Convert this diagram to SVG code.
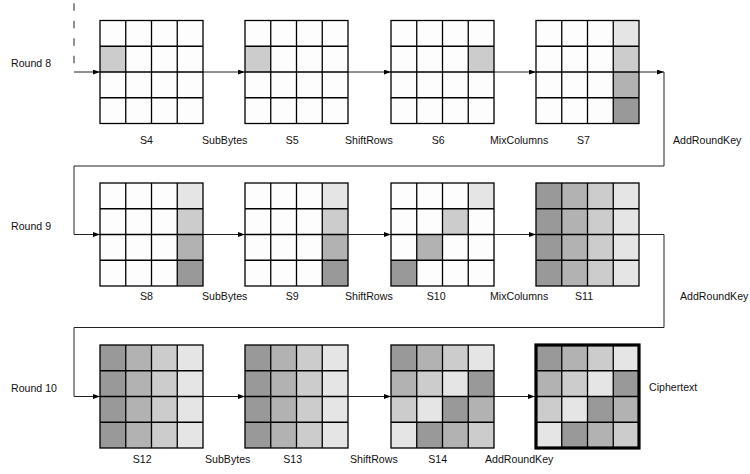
<svg xmlns="http://www.w3.org/2000/svg" xmlns:xlink="http://www.w3.org/1999/xlink" width="750" height="474" viewBox="0 0 750 474">
<style>
text{font-family:"Liberation Sans",Arial,Helvetica,sans-serif;font-size:10.6px;fill:#111}
.conn{fill:none;stroke:#222;stroke-width:1}
.gl{fill:none;stroke:#000;stroke-width:1.3}
.bg{fill:#fdfdfd}
.c1{fill:#e5e5e5}.c2{fill:#cccccc}.c3{fill:#b2b2b2}.c4{fill:#999999}
</style>
<defs>
<marker id="ah" markerUnits="userSpaceOnUse" markerWidth="8" markerHeight="6" refX="7" refY="2.4" orient="auto"><path d="M0,0 L7,2.4 L0,4.8 z" fill="#000"/></marker>
<g id="lines"><rect class="gl" width="103" height="103"/><path class="gl" d="M25.75 0V103M51.5 0V103M77.25 0V103M0 25.75H103M0 51.5H103M0 77.25H103"/></g>
<g id="col3"><rect class="c1" x="77.25" y="0" width="25.75" height="25.75"/><rect class="c2" x="77.25" y="25.75" width="25.75" height="25.75"/><rect class="c3" x="77.25" y="51.5" width="25.75" height="25.75"/><rect class="c4" x="77.25" y="77.25" width="25.75" height="25.75"/></g>
<g id="cols"><rect class="c4" x="0" y="0" width="25.75" height="103"/><rect class="c3" x="25.75" y="0" width="25.75" height="103"/><rect class="c2" x="51.5" y="0" width="25.75" height="103"/><rect class="c1" x="77.25" y="0" width="25.75" height="103"/></g>
<g id="mixed">
<rect class="c4" x="0" y="0" width="25.75" height="25.75"/><rect class="c3" x="25.75" y="0" width="25.75" height="25.75"/><rect class="c2" x="51.5" y="0" width="25.75" height="25.75"/><rect class="c1" x="77.25" y="0" width="25.75" height="25.75"/>
<rect class="c3" x="0" y="25.75" width="25.75" height="25.75"/><rect class="c2" x="25.75" y="25.75" width="25.75" height="25.75"/><rect class="c1" x="51.5" y="25.75" width="25.75" height="25.75"/><rect class="c4" x="77.25" y="25.75" width="25.75" height="25.75"/>
<rect class="c2" x="0" y="51.5" width="25.75" height="25.75"/><rect class="c1" x="25.75" y="51.5" width="25.75" height="25.75"/><rect class="c4" x="51.5" y="51.5" width="25.75" height="25.75"/><rect class="c3" x="77.25" y="51.5" width="25.75" height="25.75"/>
<rect class="c1" x="0" y="77.25" width="25.75" height="25.75"/><rect class="c4" x="25.75" y="77.25" width="25.75" height="25.75"/><rect class="c3" x="51.5" y="77.25" width="25.75" height="25.75"/><rect class="c2" x="77.25" y="77.25" width="25.75" height="25.75"/>
</g>
</defs>

<g id="connectors">
<path class="conn" d="M74 3.3V72" stroke-dasharray="7.5 10"/>
<path class="conn" d="M74 72H100" marker-end="url(#ah)"/>
<path class="conn" d="M203 72H245" marker-end="url(#ah)"/>
<path class="conn" d="M348 72H391" marker-end="url(#ah)"/>
<path class="conn" d="M494 72H536" marker-end="url(#ah)"/>
<path class="conn" d="M639 72H664" marker-end="url(#ah)"/>
<path class="conn" d="M664 72V166H74V234.5H100" marker-end="url(#ah)"/>
<path class="conn" d="M203 234.5H245" marker-end="url(#ah)"/>
<path class="conn" d="M348 234.5H391" marker-end="url(#ah)"/>
<path class="conn" d="M494 234.5H536" marker-end="url(#ah)"/>
<path class="conn" d="M639 234.5H664V327.5H74V396.5H100" marker-end="url(#ah)"/>
<path class="conn" d="M203 396.5H245" marker-end="url(#ah)"/>
<path class="conn" d="M348 396.5H391" marker-end="url(#ah)"/>
<path class="conn" d="M494 396.5H535" marker-end="url(#ah)"/>
</g>

<g id="S4" transform="translate(100,20.5)"><rect class="bg" width="103" height="103"/><rect class="c2" x="0" y="25.75" width="25.75" height="25.75"/><use xlink:href="#lines"/><text x="40" y="123.5">S4</text></g>
<g id="S5" transform="translate(245,20.5)"><rect class="bg" width="103" height="103"/><rect class="c2" x="0" y="25.75" width="25.75" height="25.75"/><use xlink:href="#lines"/><text x="40.7" y="123.5">S5</text></g>
<g id="S6" transform="translate(391,20.5)"><rect class="bg" width="103" height="103"/><rect class="c2" x="77.25" y="25.75" width="25.75" height="25.75"/><use xlink:href="#lines"/><text x="40.7" y="123.5">S6</text></g>
<g id="S7" transform="translate(536,20.5)"><rect class="bg" width="103" height="103"/><use xlink:href="#col3"/><use xlink:href="#lines"/><text x="41" y="123.5">S7</text></g>

<g id="S8" transform="translate(100,183)"><rect class="bg" width="103" height="103"/><use xlink:href="#col3"/><use xlink:href="#lines"/><text x="40" y="117">S8</text></g>
<g id="S9" transform="translate(245,183)"><rect class="bg" width="103" height="103"/><use xlink:href="#col3"/><use xlink:href="#lines"/><text x="40.7" y="117">S9</text></g>
<g id="S10" transform="translate(391,183)"><rect class="bg" width="103" height="103"/><rect class="c1" x="77.25" y="0" width="25.75" height="25.75"/><rect class="c2" x="51.5" y="25.75" width="25.75" height="25.75"/><rect class="c3" x="25.75" y="51.5" width="25.75" height="25.75"/><rect class="c4" x="0" y="77.25" width="25.75" height="25.75"/><use xlink:href="#lines"/><text x="35.7" y="117">S10</text></g>
<g id="S11" transform="translate(536,183)"><use xlink:href="#cols"/><use xlink:href="#lines"/><text x="39" y="117">S11</text></g>

<g id="S12" transform="translate(100,345)"><use xlink:href="#cols"/><use xlink:href="#lines"/><text x="32.7" y="118">S12</text></g>
<g id="S13" transform="translate(245,345)"><use xlink:href="#cols"/><use xlink:href="#lines"/><text x="38.3" y="118">S13</text></g>
<g id="S14" transform="translate(391,345)"><use xlink:href="#mixed"/><use xlink:href="#lines"/><text x="37.3" y="118">S14</text></g>
<g id="Ciphertext" transform="translate(536,345)"><use xlink:href="#mixed"/><use xlink:href="#lines"/><rect width="103" height="103" fill="none" stroke="#000" stroke-width="3.2"/><text x="113" y="46">Ciphertext</text></g>

<g id="labels">
<text x="11" y="67">Round 8</text>
<text x="11" y="230">Round 9</text>
<text x="11" y="392">Round 10</text>
<text x="202" y="144">SubBytes</text>
<text x="345" y="144">ShiftRows</text>
<text x="490" y="144">MixColumns</text>
<text x="673" y="144">AddRoundKey</text>
<text x="202" y="300">SubBytes</text>
<text x="345" y="300">ShiftRows</text>
<text x="490" y="300">MixColumns</text>
<text x="680" y="300">AddRoundKey</text>
<text x="205" y="463">SubBytes</text>
<text x="350" y="463">ShiftRows</text>
<text x="485" y="463">AddRoundKey</text>
</g>
</svg>
